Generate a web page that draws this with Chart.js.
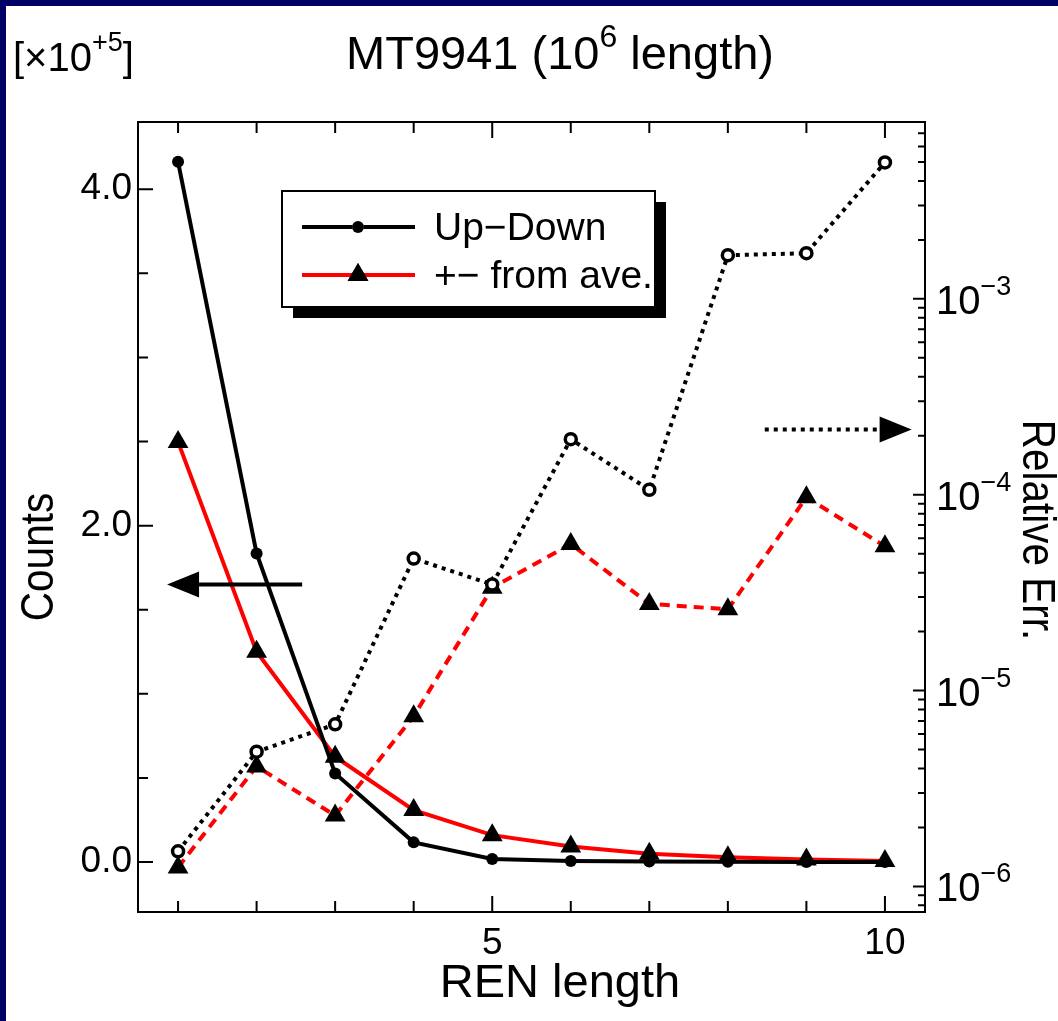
<!DOCTYPE html>
<html>
<head>
<title>MT9941 REN length</title>
<script src="https://cdn.jsdelivr.net/npm/chart.js"></script>
<style>
  html, body { margin: 0; padding: 0; background: #fff; }
  #wrap { width: 1058px; height: 1021px; }
</style>
</head>
<body>
<div id="wrap"><canvas id="chart" width="1058" height="1021"></canvas></div>
<script>
// values (counts in units of 10^5)
const renLength = [1, 2, 3, 4, 5, 6, 7, 8, 9, 10];
const upDownCounts = [4.163, 1.835, 0.527, 0.117, 0.018, 0.006, 0.003, 0.0015, 0.0008, 0.0004];
const aveCounts = [2.498, 1.25, 0.626, 0.309, 0.160, 0.092, 0.049, 0.028, 0.015, 0.0065];
const upDownErr = [1.51e-6, 4.87e-6, 6.72e-6, 4.72e-5, 3.48e-5, 1.92e-4, 1.06e-4, 1.67e-3, 1.71e-3, 4.97e-3];
const aveErr = [1.25e-6, 4.1e-6, 2.3e-6, 7.4e-6, 3.35e-5, 5.6e-5, 2.77e-5, 2.6e-5, 9.7e-5, 5.45e-5];

const seriesLabels = ['Up\u2212Down', '+\u2212 from ave.'];

const xTicks = [1, 2, 3, 4, 5, 6, 7, 8, 9, 10];
const xTickLabels = { 5: '5', 10: '10' };
const countTicks = [0, 0.5, 1, 1.5, 2, 2.5, 3, 3.5, 4];
const countTickLabels = { 0: '0.0', 2: '2.0', 4: '4.0' };
const errDecades = [1e-6, 1e-5, 1e-4, 1e-3];
const errExponents = ['\u22126', '\u22125', '\u22124', '\u22123'];

// arrows, in data units
const countArrow = { from: 2.58, to: 0.86, y: 1.65 };
const errArrow = { from: 8.47, to: 10.34, y: 2.15e-4 };

const FONT = '"Liberation Sans", Arial, Helvetica, sans-serif';
const navy = '#000066';

const errMin = 7.4e-7, errMax = 8e-3;
const errTicks = [];
for (let d = -7; d <= -3; d++) {
  for (let m = 1; m <= 9; m++) {
    const v = m * Math.pow(10, d);
    if (v >= errMin && v <= errMax) errTicks.push(v);
  }
}

function pts(ys) { return renLength.map((x, i) => ({ x: x, y: ys[i] })); }

function drawParts(c, parts, x, y, align) {
  // parts: [text, size, dy]
  let total = 0;
  parts.forEach(p => { c.font = p[1] + 'px ' + FONT; total += c.measureText(p[0]).width; });
  let cx = align === 'center' ? x - total / 2 : x;
  c.textAlign = 'left';
  c.textBaseline = 'alphabetic';
  parts.forEach(p => {
    c.font = p[1] + 'px ' + FONT;
    c.fillText(p[0], cx, y + p[2]);
    cx += c.measureText(p[0]).width;
  });
}

function arrow(c, x1, x2, y, dash) {
  const dir = x2 > x1 ? 1 : -1;
  const head = 32;
  c.save();
  c.strokeStyle = '#000';
  c.fillStyle = '#000';
  c.lineWidth = 4;
  c.setLineDash(dash);
  c.beginPath();
  c.moveTo(x1, y);
  c.lineTo(x2 - dir * head, y);
  c.stroke();
  c.setLineDash([]);
  c.beginPath();
  c.moveTo(x2, y);
  c.lineTo(x2 - dir * head, y - 13);
  c.lineTo(x2 - dir * head, y + 13);
  c.closePath();
  c.fill();
  c.restore();
}

function sideTitle(c, text, x, y, rot) {
  c.save();
  c.translate(x, y);
  c.rotate(rot);
  c.scale(0.88, 1);
  c.fillText(text, 0, 0);
  c.restore();
}

const decor = {
  id: 'decor',
  beforeDraw(chart) {
    const c = chart.ctx;
    c.save();
    c.fillStyle = '#fff';
    c.fillRect(0, 0, chart.width, chart.height);
    c.fillStyle = navy;
    c.fillRect(0, 0, chart.width, 6);
    c.fillRect(0, 0, 6, chart.height);
    c.restore();
  },
  afterDatasetsDraw(chart) {
    const c = chart.ctx;
    const a = chart.chartArea;
    const xs = chart.scales.x, ys = chart.scales.y, es = chart.scales.y2;
    c.save();
    c.strokeStyle = '#000';
    c.lineWidth = 2;
    c.strokeRect(a.left, a.top, a.right - a.left, a.bottom - a.top);

    c.beginPath();
    xTicks.forEach(v => {
      const px = xs.getPixelForValue(v);
      const len = xTickLabels[v] ? 16 : 11;
      c.moveTo(px, a.bottom); c.lineTo(px, a.bottom - len);
      c.moveTo(px, a.top); c.lineTo(px, a.top + len);
    });
    countTicks.forEach(v => {
      const py = ys.getPixelForValue(v);
      const len = countTickLabels[v] ? 15 : 10;
      c.moveTo(a.left, py); c.lineTo(a.left + len, py);
    });
    errTicks.forEach(v => {
      const py = es.getPixelForValue(v);
      const major = errDecades.some(d => Math.abs(d - v) / d < 1e-6);
      const len = major ? 12 : 7;
      c.moveTo(a.right, py); c.lineTo(a.right - len, py);
    });
    c.stroke();

    // right axis labels 10^n
    c.fillStyle = '#000';
    errDecades.forEach((v, i) => {
      const py = es.getPixelForValue(v);
      drawParts(c, [['10', 40, 0], [errExponents[i], 27, -19]], a.right + 11, py + 15, 'left');
    });

    // arrows
    arrow(c, xs.getPixelForValue(countArrow.from), xs.getPixelForValue(countArrow.to),
      ys.getPixelForValue(countArrow.y), []);
    arrow(c, xs.getPixelForValue(errArrow.from), xs.getPixelForValue(errArrow.to),
      es.getPixelForValue(errArrow.y), [4, 5]);

    // legend with shadow
    const lx = 282, ly = 191, lw = 373, lh = 116;
    c.fillStyle = '#000';
    c.fillRect(lx + 11, ly + 11, lw, lh);
    c.fillStyle = '#fff';
    c.fillRect(lx, ly, lw, lh);
    c.lineWidth = 2;
    c.strokeRect(lx, ly, lw, lh);
    [0, 1].forEach(i => {
      const ds = chart.data.datasets[i];
      const y = ly + 36 + i * 48;
      c.save();
      c.strokeStyle = ds.borderColor;
      c.lineWidth = ds.borderWidth;
      c.beginPath();
      c.moveTo(lx + 20, y); c.lineTo(lx + 133, y);
      c.stroke();
      c.restore();
      Chart.helpers.drawPoint(c, {
        pointStyle: ds.pointStyle, radius: ds.pointRadius, rotation: 0,
        borderWidth: 0
      }, lx + 76, y);
      c.fillStyle = '#000';
      c.fill();
      c.font = '39px ' + FONT;
      c.textAlign = 'left';
      c.textBaseline = 'middle';
      c.fillText(seriesLabels[i], lx + 152, y + 2);
    });

    // titles
    c.fillStyle = '#000';
    drawParts(c, [['MT9941 (10', 47, 0], ['6', 32, -22], [' length)', 47, 0]], 560, 69, 'center');
    drawParts(c, [['[\u00d710', 40, 0], ['+5', 27, -20], [']', 40, 0]], 13, 71, 'left');

    c.font = '47px ' + FONT;
    c.textAlign = 'center';
    c.textBaseline = 'middle';
    c.fillText('REN length', 560, 984);
    c.font = '46px ' + FONT;
    sideTitle(c, 'Counts', 40, 557, -Math.PI / 2);
    sideTitle(c, 'Relative Err.', 1036, 530, Math.PI / 2);
    c.restore();
  }
};

new Chart(document.getElementById('chart'), {
  type: 'line',
  data: {
    datasets: [
      {
        label: seriesLabels[0], data: pts(upDownCounts), yAxisID: 'y',
        borderColor: '#000', borderWidth: 4,
        pointStyle: 'circle', pointRadius: 6, pointBackgroundColor: '#000', pointBorderWidth: 0
      },
      {
        label: seriesLabels[1], data: pts(aveCounts), yAxisID: 'y',
        borderColor: '#ff0000', borderWidth: 4,
        pointStyle: 'triangle', pointRadius: 12, pointBackgroundColor: '#000', pointBorderWidth: 0
      },
      {
        label: seriesLabels[0] + ' err', data: pts(upDownErr), yAxisID: 'y2',
        borderColor: '#000', borderWidth: 4, borderDash: [4, 5],
        pointStyle: 'circle', pointRadius: 5.5, pointBackgroundColor: '#fff',
        pointBorderColor: '#000', pointBorderWidth: 3.5
      },
      {
        label: seriesLabels[1] + ' err', data: pts(aveErr), yAxisID: 'y2',
        borderColor: '#ff0000', borderWidth: 4, borderDash: [10, 7],
        pointStyle: 'triangle', pointRadius: 12, pointBackgroundColor: '#000', pointBorderWidth: 0
      }
    ]
  },
  options: {
    responsive: false,
    animation: false,
    devicePixelRatio: 1,
    layout: { padding: { top: 122, left: 0, right: 0, bottom: 0 } },
    elements: { line: { tension: 0 } },
    plugins: { legend: { display: false }, title: { display: false }, tooltip: { enabled: false } },
    scales: {
      x: {
        type: 'linear', min: 0.49, max: 10.51,
        grid: { display: false }, border: { display: false },
        afterBuildTicks: s => { s.ticks = xTicks.map(v => ({ value: v })); },
        afterFit: s => { s.height = 109; },
        ticks: {
          autoSkip: false, maxRotation: 0, padding: 2, color: '#000',
          font: { family: FONT, size: 37 },
          callback: v => xTickLabels[v] || ''
        }
      },
      y: {
        type: 'linear', position: 'left', min: -0.297, max: 4.4,
        grid: { display: false, drawTicks: false }, border: { display: false },
        afterBuildTicks: s => { s.ticks = countTicks.map(v => ({ value: v })); },
        afterFit: s => { s.width = 138; },
        ticks: {
          autoSkip: false, padding: 6, color: '#000',
          font: { family: FONT, size: 37 },
          callback: v => countTickLabels[v] || ''
        }
      },
      y2: {
        type: 'logarithmic', position: 'right', min: errMin, max: errMax,
        grid: { display: false, drawTicks: false }, border: { display: false },
        afterBuildTicks: s => { s.ticks = errTicks.map(v => ({ value: v })); },
        afterFit: s => { s.width = 133; },
        ticks: { display: false }
      }
    }
  },
  plugins: [decor]
});
</script>
</body>
</html>
